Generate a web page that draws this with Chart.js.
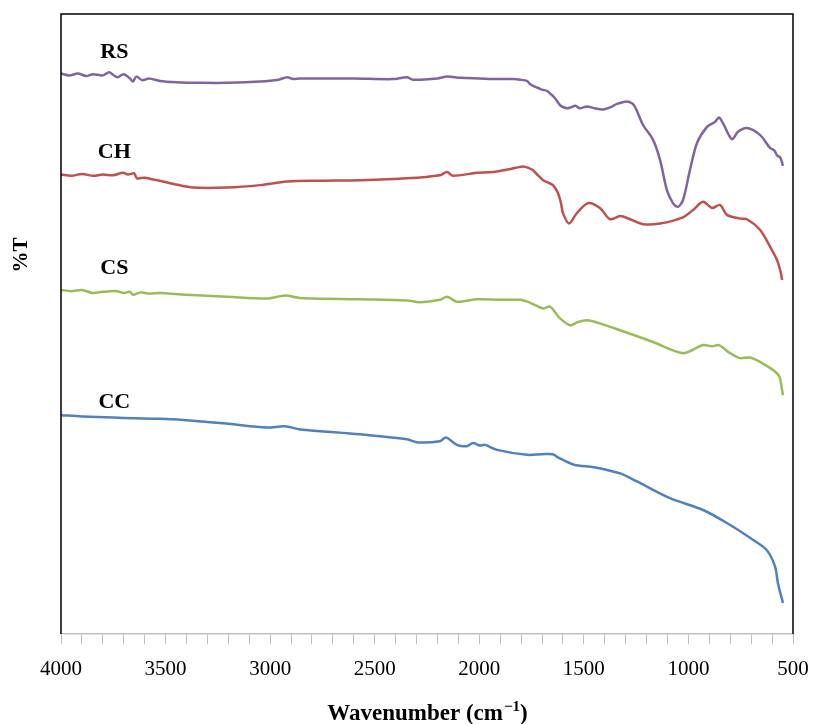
<!DOCTYPE html>
<html><head><meta charset="utf-8">
<script src="https://cdn.jsdelivr.net/npm/chart.js@4.4.1/dist/chart.umd.min.js"></script>
<style>html,body{margin:0;padding:0;background:#fff;}#wrap{width:814px;height:724px;}</style>
</head><body><div id="wrap"><canvas id="c" width="814" height="724"></canvas></div>
<script>
const seriesNames = ['RS', 'CH', 'CS', 'CC'];
const tickLabels = [4000, 3500, 3000, 2500, 2000, 1500, 1000, 500];
const labelWn = [3745, 3745, 3745, 3745];
const labelT = [93.9, 77.7, 59.0, 37.4];

const rsWn = [4000,3960,3920,3880,3847,3800,3770,3751,3730,3700,3670,3656,3640,3610,3580,3527,3450,3335,3200,3048,2960,2919,2890,2857,2600,2413,2346,2317,2200,2154,2092,2000,1900,1839,1805,1772,1760,1743,1720,1700,1676,1662,1640,1614,1600,1580,1566,1540,1520,1485,1450,1408,1370,1342,1294,1270,1255,1217,1169,1136,1103,1074,1050,1026,993,959,911,873,854,835,792,763,720,658,610,590,576,560,548];
const rsT  = [90.4,90.1,90.4,90.0,90.3,90.1,90.6,90.2,89.8,90.3,89.6,89.1,89.9,89.3,89.6,89.2,89.0,88.9,88.9,89.1,89.4,89.8,89.5,89.6,89.6,89.5,89.8,89.4,89.6,89.9,89.7,89.6,89.5,89.5,89.4,89.2,88.8,88.4,88.1,87.8,87.6,87.2,86.5,85.3,85.0,84.8,84.9,85.2,84.8,85.1,84.8,84.6,85.0,85.5,85.9,85.6,85.0,82.1,79.7,76.5,71.6,69.5,68.9,70.0,74.8,79.2,81.8,82.6,83.3,82.4,79.8,81.0,81.6,80.5,78.4,78.0,77.2,76.8,75.5];

const chWn = [4000,3950,3900,3847,3800,3750,3704,3680,3650,3637,3600,3560,3527,3450,3369,3206,3048,2919,2750,2570,2346,2188,2154,2126,2011,1934,1850,1791,1760,1743,1720,1695,1670,1648,1625,1610,1600,1571,1533,1480,1423,1375,1327,1279,1217,1136,1026,978,930,887,849,816,753,720,658,610,576,560,552];
const chT  = [74.1,73.9,74.2,73.9,74.1,74.0,74.4,74.1,74.3,73.5,73.6,73.3,73.1,72.5,72.0,72.0,72.4,73.0,73.1,73.2,73.5,74.0,74.5,73.9,74.4,74.5,75.0,75.4,75.1,74.8,74.0,73.2,72.8,72.4,71.2,69.6,67.9,66.2,67.9,69.5,68.7,66.9,67.4,66.9,66.1,66.2,67.2,68.4,69.7,68.7,69.2,67.6,67.0,66.9,65.2,62.5,60.3,58.5,57.1];

const csWn = [4000,3950,3900,3847,3800,3732,3700,3670,3656,3620,3580,3527,3400,3206,3015,2929,2857,2570,2346,2284,2188,2154,2107,2011,1900,1805,1770,1743,1710,1695,1662,1640,1614,1566,1530,1485,1423,1327,1169,1026,930,887,854,801,753,706,658,596,570,562,548];
const csT  = [55.5,55.3,55.5,55.0,55.2,55.3,55.0,55.2,54.7,55.1,54.9,55.0,54.7,54.4,54.1,54.6,54.2,54.0,53.8,53.5,53.9,54.4,53.6,54.0,53.9,53.9,53.6,53.2,52.7,52.5,52.8,52.0,50.9,49.8,50.3,50.6,50.1,49.0,47.1,45.3,46.6,46.4,46.6,45.3,44.5,44.6,43.9,42.6,41.8,41.2,38.5];

const ccWn = [4000,3900,3751,3650,3527,3369,3200,3015,2929,2857,2570,2346,2293,2188,2159,2107,2059,2030,1997,1973,1915,1772,1700,1648,1624,1547,1452,1327,1246,1088,930,816,692,625,586,572,548];
const ccT  = [35.3,35.1,34.9,34.8,34.7,34.4,33.9,33.3,33.5,33.0,32.2,31.4,30.9,31.1,31.7,30.5,30.3,30.8,30.4,30.5,29.7,28.9,29.0,29.0,28.5,27.3,26.9,25.9,24.6,21.9,20.0,17.9,15.2,13.5,10.9,8.2,5.0];

const colors = ['#8064A2', '#C0504D', '#9BBB59', '#4F81BD'];
const wnSets = [rsWn, chWn, csWn, ccWn];
const tSets = [rsT, chT, csT, ccT];

const datasets = seriesNames.map((n, i) => ({
  label: n,
  data: wnSets[i].map((w, j) => ({x: w, y: tSets[i][j]})),
  borderColor: colors[i],
  borderWidth: 2.5,
  pointRadius: 0,
  tension: 0.3,
  fill: false
}));

const overlay = {
  id: 'overlay',
  afterDraw(chart) {
    const {ctx, chartArea: a, scales} = chart;
    ctx.save();
    ctx.strokeStyle = '#000';
    ctx.lineWidth = 1.5;
    ctx.beginPath();
    ctx.moveTo(a.left, a.bottom);
    ctx.lineTo(a.left, a.top);
    ctx.lineTo(a.right, a.top);
    ctx.lineTo(a.right, a.bottom);
    ctx.stroke();
    // series labels
    ctx.fillStyle = '#000';
    ctx.font = 'bold 22px "Liberation Serif", "DejaVu Serif", serif';
    ctx.textAlign = 'center';
    ctx.textBaseline = 'middle';
    seriesNames.forEach((n, i) => {
      ctx.fillText(n, scales.x.getPixelForValue(labelWn[i]), scales.y.getPixelForValue(labelT[i]));
    });
    // x title
    const f1 = 'bold 23px "Liberation Serif", "DejaVu Serif", serif';
    const f2 = 'bold 15px "Liberation Serif", "DejaVu Serif", serif';
    const p1 = 'Wavenumber (cm', p2 = '\u22121', p3 = ')';
    ctx.font = f1; const w1 = ctx.measureText(p1).width, w3 = ctx.measureText(p3).width;
    ctx.font = f2; const w2 = ctx.measureText(p2).width;
    const total = w1 + w2 + w3;
    let x0 = (a.left + a.right) / 2 - total / 2;
    const yb = a.bottom + 86;
    ctx.textAlign = 'left';
    ctx.textBaseline = 'alphabetic';
    ctx.font = f1; ctx.fillText(p1, x0, yb);
    ctx.font = f2; ctx.fillText(p2, x0 + w1 + 1, yb - 9);
    ctx.font = f1; ctx.fillText(p3, x0 + w1 + w2 + 1, yb);
    // y title
    ctx.translate(22, 255);
    ctx.rotate(-Math.PI / 2);
    ctx.textAlign = 'center';
    ctx.textBaseline = 'middle';
    ctx.font = 'bold 21px "Liberation Serif", "DejaVu Serif", serif';
    ctx.fillText('%T', 0, 0);
    ctx.restore();
  }
};

new Chart(document.getElementById('c'), {
  type: 'line',
  data: {datasets},
  options: {
    responsive: false,
    animation: false,
    devicePixelRatio: 1,
    layout: {autoPadding: false, padding: {left: 61, right: 21, top: 14, bottom: 0}},
    plugins: {legend: {display: false}, tooltip: {enabled: false}},
    scales: {
      x: {
        type: 'linear', reverse: true, min: 500, max: 4000,
        ticks: {
          stepSize: 100, autoSkip: false, maxRotation: 0, color: '#000', padding: 13,
          font: {family: '"Liberation Serif", "DejaVu Serif", serif', size: 21},
          callback: v => tickLabels.includes(v) ? String(v) : ''
        },
        grid: {display: true, drawOnChartArea: false, drawTicks: true, tickLength: 10, color: '#bfbfbf', lineWidth: 1},
        border: {display: true, color: '#bfbfbf', width: 1.5},
        afterFit: s => { s.height = 90; s.paddingLeft = 0; s.paddingRight = 0; }
      },
      y: {display: false, min: 0, max: 100}
    }
  },
  plugins: [overlay]
});
</script></body></html>
